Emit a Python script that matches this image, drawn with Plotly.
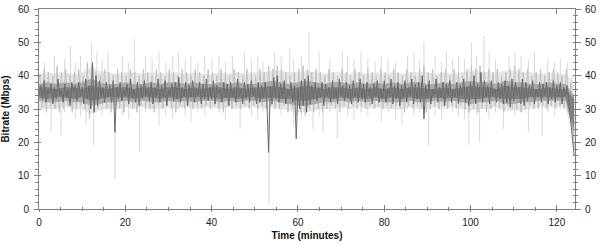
import plotly.graph_objects as go

# ---------------- data ----------------
# Dark core trace, samples every 0.4 min
dark_step = 0.4
dark_vals = [
    34, 37, 33, 38.5, 32, 36, 34.5, 37.5, 31.5, 36.5,
    33, 39, 34, 35.5, 32, 37.5, 33.5, 36, 31, 38,
    35, 37, 32.5, 38, 34, 36.5, 31.5, 39, 33, 37,
    30, 44, 29, 40, 31, 38.5, 34, 36.5, 32, 38,
    33.5, 37, 32, 38.5, 23, 36.5, 33, 38, 32.5, 35.5,
    34, 37.5, 31.5, 39, 33.5, 36, 32, 38, 31, 37,
    33, 38.5, 34, 36, 32.5, 38, 31.5, 36.5, 34, 39,
    32, 37, 33.5, 38.5, 31, 36, 34, 37.5, 32.5, 38,
    33, 39.5, 32, 36.5, 34, 38, 31, 37, 33.5, 38.5,
    32, 36, 34, 38, 31.5, 37.5, 33, 39, 32.5, 36.5,
    33, 38.5, 31.5, 37, 34.5, 36, 32, 38, 33.5, 37.5,
    31, 38, 33.5, 36.5, 32, 39, 34, 36, 31.5, 38,
    33, 37.5, 32, 38.5, 34, 36, 31.5, 38, 32, 37,
    33.5, 38, 32, 17, 36.5, 31.5, 39.5, 33, 40, 32,
    37.5, 33, 38.5, 31.5, 36, 34, 38, 32, 37, 21,
    36, 30, 38.5, 31, 39, 29, 40, 31.5, 37, 33,
    38, 32.5, 36.5, 33.5, 38, 31, 37.5, 34, 36.5, 32,
    38.5, 33, 36, 31.5, 39, 34, 37, 32.5, 38, 33.5,
    37, 31.5, 38.5, 34, 36, 32, 39, 33, 37.5, 32,
    38, 34, 36.5, 31.5, 37.5, 33.5, 38.5, 32, 36, 33,
    38.5, 32, 36, 34, 39, 31.5, 37, 33, 38, 31,
    37, 33.5, 38.5, 32, 36.5, 34, 39, 31.5, 37.5, 33,
    38, 32, 40, 27, 37, 33.5, 38.5, 31.5, 36, 34,
    39, 32, 36.5, 33.5, 38, 31, 37.5, 34, 38.5, 32,
    36, 33.5, 38, 31.5, 37, 34, 39, 32, 36.5, 31,
    38, 33, 40, 31.5, 37.5, 33, 41, 32, 38.5, 33.5,
    37, 31.5, 38.5, 34, 36, 32, 38, 33, 37.5, 31.5,
    38.5, 32, 37, 30.5, 39, 32.5, 38, 34, 36.5, 31.5,
    39, 31, 38, 32.5, 37, 34, 38.5, 31.5, 36, 33.5,
    38, 32, 37.5, 34, 38, 31.5, 36.5, 33, 38.5, 32,
    37, 33.5, 38, 31.5, 36.5, 34, 37, 32, 28, 22,
    16,
]

# Lighter wider trace, samples every 0.5 min starting at 0.2
light_start = 0.2
light_step = 0.5
light_vals = [
    40, 30, 42, 29, 41, 31, 40, 30, 43, 29,
    41, 30, 42, 31, 40, 29, 41, 30, 42, 31,
    40, 30, 44, 27, 43, 29, 41, 30, 40, 31,
    42, 30, 41, 29, 40, 31, 42, 30, 41, 29,
    40, 31, 42, 30, 41, 29, 40, 31, 42, 30,
    41, 30, 40, 29, 42, 31, 41, 30, 40, 31,
    42, 30, 41, 29, 40, 31, 42, 30, 41, 31,
    40, 30, 42, 31, 41, 30, 40, 31, 42, 30,
    41, 31, 40, 30, 42, 29, 41, 31, 40, 30,
    42, 31, 41, 30, 40, 31, 42, 30, 41, 31,
    40, 30, 42, 31, 41, 30, 43, 31, 42, 30,
    43, 30, 42, 31, 41, 29, 40, 30, 41, 28,
    42, 29, 43, 28, 42, 30, 41, 29, 42, 30,
    41, 29, 40, 30, 42, 31, 41, 30, 40, 29,
    42, 31, 41, 30, 40, 31, 42, 30, 41, 31,
    40, 30, 42, 31, 41, 30, 40, 31, 42, 30,
    41, 31, 40, 30, 42, 31, 41, 30, 40, 29,
    42, 31, 41, 30, 40, 31, 42, 30, 43, 29,
    41, 30, 42, 31, 40, 30, 41, 31, 42, 30,
    40, 31, 42, 30, 41, 31, 40, 30, 42, 29,
    43, 30, 42, 29, 43, 30, 41, 29, 42, 30,
    41, 31, 42, 30, 40, 29, 41, 31, 42, 30,
    43, 30, 42, 29, 41, 30, 42, 31, 40, 30,
    41, 30, 42, 31, 40, 30, 41, 31, 42, 30,
    41, 31, 40, 30, 42, 31, 38, 24, 18,
]

# Envelopes of the band, every 2 min (t = 0 .. 124)
env_step = 2
light_hi = [
    40.5, 41, 40.5, 41, 40.5, 41, 42.5, 41.5, 41, 40.5,
    41, 41, 40.5, 41, 40.5, 41, 41, 40.5, 41, 40.5,
    40.5, 41, 40.5, 41, 40.5, 41, 41, 41.5, 41.5, 41,
    41, 41.5, 41, 40.5, 41, 41, 40.5, 41, 40.5, 41,
    40.5, 41, 40.5, 41, 41, 41, 40.5, 41, 40.5, 41,
    41.5, 41.5, 41, 41, 41.5, 41.5, 41, 41, 40.5, 41,
    40.5, 40.5, 38,
]
light_lo = [
    30.5, 30, 30, 30.5, 30, 30, 28.5, 29.5, 30, 30,
    30.5, 30, 30.5, 30, 30, 30.5, 30, 30.5, 30, 30.5,
    30.5, 30, 30.5, 30, 30.5, 30.5, 30, 30.5, 30, 29.5,
    29, 29, 29.5, 30, 30, 30.5, 30, 30.5, 30, 30.5,
    30, 30, 30, 30.5, 30, 30, 30.5, 30, 30.5, 30,
    29.5, 30, 30, 30.5, 29.5, 29.5, 29.5, 30, 30.5, 30.5,
    30.5, 30.5, 20,
]
mid_hi = [
    37.5, 38, 37.5, 38, 37.5, 38, 39, 38, 37.5, 37.5,
    38, 37.5, 37.5, 38, 37.5, 38, 38, 37.5, 38, 37.5,
    37.5, 38, 37.5, 38, 37.5, 37.5, 38, 38.5, 38, 37.5,
    38, 38.5, 38, 37.5, 38, 38, 37.5, 38, 37.5, 38,
    37.5, 38, 37.5, 38, 38, 37.5, 37.5, 38, 37.5, 38,
    38.5, 38, 38, 37.5, 38.5, 38, 38, 37.5, 37.5, 38,
    37.5, 37.5, 34,
]
mid_lo = [
    32.5, 32, 32, 32.5, 32, 32, 31, 31.5, 32, 32,
    32.5, 32, 32.5, 32, 32, 32.5, 32, 32.5, 32, 32.5,
    32.5, 32, 32.5, 32, 32.5, 32.5, 32, 32.5, 32, 31.5,
    31, 31, 31.5, 32, 32, 32.5, 32, 32.5, 32, 32.5,
    32, 32, 32, 32.5, 32, 32, 32.5, 32, 32.5, 32,
    31.5, 32, 32, 32.5, 31.5, 31.5, 32, 32, 32.5, 32.5,
    32.5, 32.5, 22,
]
core_hi = [
    36.5, 36.5, 36, 36.5, 36.5, 36, 37, 36.5, 36, 36.5,
    36.5, 36, 36.5, 36.5, 36, 36.5, 36.5, 36, 36.5, 36,
    36.5, 36.5, 36, 36.5, 36, 36.5, 36.5, 37, 36.5, 36,
    36.5, 37, 36.5, 36, 36.5, 36.5, 36, 36.5, 36, 36.5,
    36, 36.5, 36, 36.5, 36.5, 36, 36, 36.5, 36, 36.5,
    37, 36.5, 36.5, 36, 37, 36.5, 36.5, 36, 36, 36.5,
    36, 36, 33,
]
core_lo = [
    33.5, 33, 33.5, 33.5, 33, 33.5, 32.5, 33, 33.5, 33.5,
    33.5, 33, 33.5, 33.5, 33, 33.5, 33, 33.5, 33.5, 33.5,
    33.5, 33, 33.5, 33, 33.5, 33.5, 33, 33.5, 33, 33,
    32.5, 32.5, 33, 33.5, 33, 33.5, 33, 33.5, 33, 33.5,
    33, 33.5, 33, 33.5, 33, 33, 33.5, 33, 33.5, 33,
    33, 33, 33.5, 33.5, 33, 33, 33, 33.5, 33.5, 33.5,
    33.5, 33.5, 24,
]

# Occasional faint excursions: time, low, high
spike_t = [1.3, 2.8, 3.6, 5.1, 5.9, 7.3, 8.4, 9.6, 10.9, 12.2, 12.7, 13.4, 14.6, 16.0,
           17.6, 19.3, 20.8, 22.1, 23.3, 24.7, 26.2, 27.8, 29.4, 31.0, 32.3, 33.9, 35.2,
           36.8, 38.4, 40.1, 41.7, 43.2, 44.8, 46.6, 47.6, 49.2, 50.7, 51.9, 53.3, 54.6,
           56.1, 58.1, 59.0, 60.8, 62.6, 63.5, 64.9, 65.8, 67.4, 69.1, 70.3, 71.5, 73.0,
           74.6, 76.2, 77.9, 79.3, 80.9, 82.6, 84.1, 85.4, 86.9, 88.2, 89.2, 90.3, 91.8,
           93.3, 94.4, 95.8, 97.2, 98.6, 99.6, 100.2, 101.4, 102.1, 103.1, 104.3, 105.8,
           107.6, 108.9, 110.3, 111.7, 113.4, 114.8, 116.6, 117.9, 119.5, 120.8, 122.4, 123.5]
spike_lo = [30, 23, 31, 22, 29, 31, 27, 28, 25, 33, 19, 30, 28, 30,
            9, 28, 27, 31, 17, 29, 30, 25, 28, 27, 30, 28, 26,
            29, 28, 30, 29, 27, 30, 24, 31, 28, 27, 29, 1, 30,
            28, 31, 25, 27, 30, 24, 28, 23, 29, 21, 30, 28, 27,
            29, 28, 30, 26, 29, 27, 25, 30, 28, 29, 31, 19, 28,
            27, 31, 29, 28, 27, 19, 32, 28, 20, 32, 27, 29,
            24, 30, 28, 29, 23, 30, 22, 29, 28, 30, 29, 27]
spike_hi = [44, 36, 46, 35, 45, 49, 44, 46, 35, 50, 34, 47, 45, 47,
            34, 46, 44, 51, 33, 46, 45, 47, 44, 46, 47, 45, 46,
            44, 46, 45, 46, 44, 46, 35, 47, 45, 46, 44, 34, 47,
            46, 48, 45, 46, 53, 36, 47, 35, 45, 35, 47, 46, 45,
            47, 45, 44, 46, 45, 44, 36, 46, 47, 45, 50, 33, 46,
            44, 47, 45, 46, 45, 34, 50, 46, 34, 52, 47, 45,
            36, 46, 47, 46, 45, 47, 35, 45, 44, 45, 44, 40]

x_ticks = [0, 20, 40, 60, 80, 100, 120]
y_ticks = [0, 10, 20, 30, 40, 50, 60]
x_range = [0, 124.2]
y_range = [0, 60]

# ---------------- figure ----------------
dark_t = [round(i * dark_step, 3) for i in range(len(dark_vals))]
light_t = [round(light_start + i * light_step, 3) for i in range(len(light_vals))]
env_t = [i * env_step for i in range(len(light_hi))]

sx, sy = [], []
for t, lo, hi in zip(spike_t, spike_lo, spike_hi):
    sx += [t, t, None]
    sy += [lo, hi, None]


def band(fig, lo, hi, color):
    fig.add_trace(go.Scatter(x=env_t, y=lo, mode="lines", line=dict(width=0, color=color),
                             hoverinfo="skip"))
    fig.add_trace(go.Scatter(x=env_t, y=hi, mode="lines", line=dict(width=0, color=color),
                             fill="tonexty", fillcolor=color, hoverinfo="skip"))


fig = go.Figure()
band(fig, light_lo, light_hi, "#e6e6e6")
fig.add_trace(go.Scatter(x=sx, y=sy, mode="lines",
                         line=dict(color="#d8d8d8", width=1), hoverinfo="skip"))
fig.add_trace(go.Scatter(x=light_t, y=light_vals, mode="lines",
                         line=dict(color="#c2c2c2", width=1), hoverinfo="skip"))
band(fig, mid_lo, mid_hi, "#a9a9a9")
band(fig, core_lo, core_hi, "#808080")
fig.add_trace(go.Scatter(x=dark_t, y=dark_vals, mode="lines",
                         line=dict(color="#6c6c6c", width=1), hoverinfo="skip"))

# empty traces that only activate the extra tick axes
for xa, ya in (("x2", "y2"), ("x3", "y3"), ("x3", "y4")):
    fig.add_trace(go.Scatter(x=[], y=[], xaxis=xa, yaxis=ya, hoverinfo="skip"))

axis_col = "#808080"
tick_font = dict(family="Liberation Sans, Arial, sans-serif", size=10, color="#222222")
title_font = dict(family="Liberation Sans, Arial, sans-serif", size=10, color="#111111")

common = dict(showgrid=False, zeroline=False, fixedrange=True, automargin=False,
              tickcolor=axis_col, linecolor=axis_col)

fig.update_layout(
    width=600, height=247,
    margin=dict(l=39, r=25, t=9, b=38, autoexpand=False),
    paper_bgcolor="white", plot_bgcolor="white",
    showlegend=False,
    font=tick_font,
    xaxis=dict(
        range=x_range, tickvals=x_ticks, ticktext=[str(v) for v in x_ticks],
        showline=True, linewidth=1, ticks="outside", ticklen=2,
        minor=dict(dtick=5, tick0=0, ticks="outside", ticklen=1, tickcolor=axis_col),
        tickfont=tick_font, ticklabelstandoff=2,
        title=dict(text="<b>Time (minutes)</b>", font=title_font, standoff=4),
        **common,
    ),
    xaxis2=dict(
        range=x_range, overlaying="x", side="bottom", anchor="y2",
        tickvals=x_ticks, showticklabels=False, showline=False,
        ticks="inside", ticklen=4,
        minor=dict(dtick=5, tick0=0, ticks="inside", ticklen=2, tickcolor=axis_col),
        **common,
    ),
    xaxis3=dict(
        range=x_range, overlaying="x", side="top", anchor="y3",
        tickvals=x_ticks, showticklabels=False, showline=True, linewidth=1,
        ticks="inside", ticklen=5,
        **common,
    ),
    yaxis=dict(
        range=y_range, tickvals=y_ticks, ticktext=[str(v) for v in y_ticks],
        showline=True, linewidth=1, ticks="outside", ticklen=4,
        minor=dict(dtick=2, tick0=0, ticks="outside", ticklen=3, tickcolor=axis_col),
        tickfont=tick_font, ticklabelstandoff=3,
        title=dict(text="<b>Bitrate (Mbps)</b>", font=title_font, standoff=6),
        **common,
    ),
    yaxis2=dict(
        range=y_range, overlaying="y", side="left", anchor="x2",
        tickvals=y_ticks, showticklabels=False, showline=False,
        ticks="inside", ticklen=2,
        **common,
    ),
    yaxis3=dict(
        range=y_range, overlaying="y", side="right", anchor="x3",
        tickvals=y_ticks, ticktext=[str(v) for v in y_ticks],
        showline=True, linewidth=1, ticks="outside", ticklen=5,
        minor=dict(dtick=2, tick0=0, ticks="outside", ticklen=2, tickcolor=axis_col),
        tickfont=tick_font, ticklabelstandoff=2,
        **common,
    ),
    yaxis4=dict(
        range=y_range, overlaying="y", side="right", anchor="x3",
        tickvals=y_ticks, showticklabels=False, showline=False,
        ticks="inside", ticklen=2,
        minor=dict(dtick=2, tick0=0, ticks="inside", ticklen=2, tickcolor=axis_col),
        **common,
    ),
)

fig.write_html("out.html")
